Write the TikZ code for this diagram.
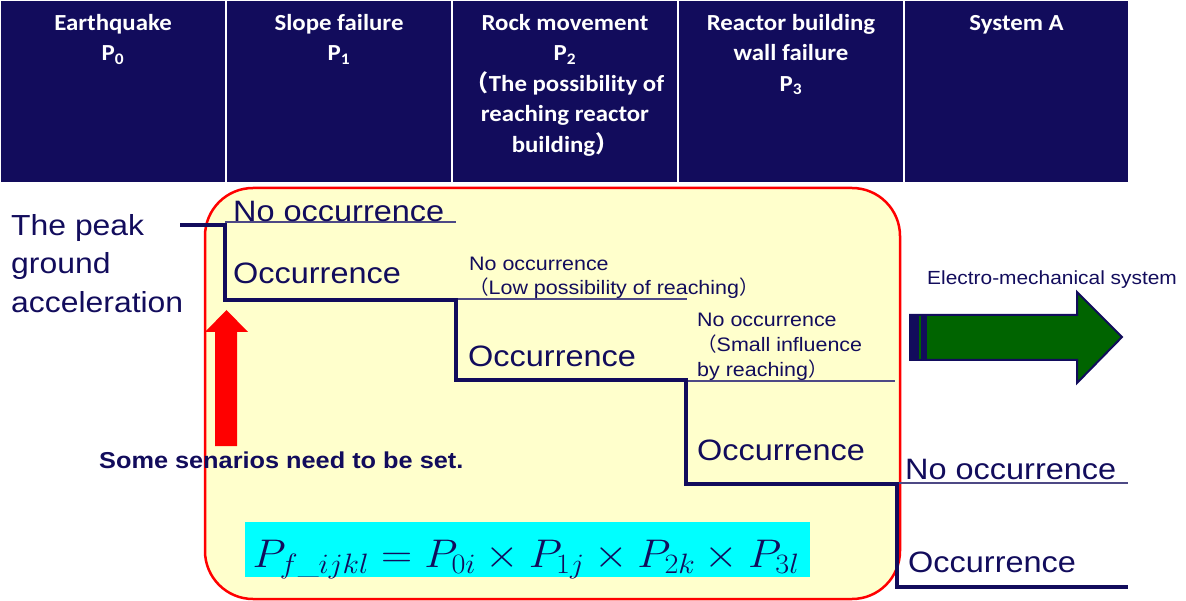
\RequirePackage{fix-cm}
\documentclass[tikz,border=0pt]{standalone}
\usepackage{amsmath}
\usepackage{fontspec}
\usepackage{graphicx}
\newfontfamily\hdrfont[FakeStretch=1.08]{Carlito}
\newfontfamily\arl[FakeStretch=1.1]{Liberation Sans}
\newfontfamily\cjk{Noto Sans CJK SC}
\definecolor{navy}{RGB}{18,12,92}
\definecolor{hdr}{RGB}{18,12,92}
\definecolor{lyel}{RGB}{255,255,204}
\definecolor{dgreen}{RGB}{0,100,0}
\definecolor{aqua}{RGB}{0,255,255}
\begin{document}
\begin{tikzpicture}[x=1pt,y=-1pt,
  hbox/.style={fill=hdr,draw=white,line width=1.5pt},
  htext/.style={text=white,font=\hdrfont\bfseries\fontsize{23}{30.5}\selectfont,align=center,anchor=north,inner sep=0pt},
  big/.style={text=navy,font=\arl\fontsize{29.5}{34}\selectfont,anchor=base west,inner sep=0pt},
  small/.style={text=navy,font=\arl\fontsize{19.5}{24}\selectfont,anchor=base west,inner sep=0pt},
  thickline/.style={draw=navy,line width=3.5pt,line join=miter},
  thinline/.style={draw=navy!75,line width=1.2pt}]
\useasboundingbox (0,0) rectangle (1186,601);
% header
\draw[hbox] (0,0) rectangle (226,183);
\draw[hbox] (226,0) rectangle (452,183);
\draw[hbox] (452,0) rectangle (678,183);
\draw[hbox] (678,0) rectangle (904,183);
\draw[hbox] (904,0) rectangle (1129,183);
\node[htext] (h0) at (113,12) {\rule{0pt}{18pt}Earthquake\\P\textsubscript{0}};
\node[htext] (h1) at (339,12) {\rule{0pt}{18pt}Slope failure\\P\textsubscript{1}};
\node[htext] (h2) at (565,12) {\rule{0pt}{18pt}Rock movement\\P\textsubscript{2}\\{\cjk （}The possibility of\\reaching reactor\\building{\cjk ）}};
\node[htext] (h3) at (791,12) {\rule{0pt}{18pt}Reactor building\\wall failure\\P\textsubscript{3}};
\node[htext] (h4) at (1016.5,12) {\rule{0pt}{18pt}System A};
% yellow box
\draw[red,line width=2.5pt,fill=lyel,rounded corners=48pt] (205,188) rectangle (900,599);
% red arrow
\fill[red] (215,446) -- (215,332) -- (205,332) -- (226.5,310) -- (248,332) -- (237,332) -- (237,446) -- cycle;
% green arrow
\draw[draw=navy,line width=2pt,fill=dgreen] (910,315) -- (1077,315) -- (1077,292) -- (1122,337) -- (1077,383) -- (1077,360) -- (910,360) -- cycle;
\fill[navy] (910,315) rectangle (927,360);
\draw[dgreen,line width=1.2pt] (920,316) -- (920,359);
\node[small,font=\arl\fontsize{19}{24}\selectfont] (ems) at (927,285) {Electro-mechanical system};
% coordinates of tree
\coordinate (pga) at (180,225);
\coordinate (s0) at (225,225);
\coordinate (s0b) at (225,300);
\coordinate (s1) at (456,300);
\coordinate (s1b) at (456,380);
\coordinate (s2) at (686,380);
\coordinate (s2b) at (686,484);
\coordinate (s3) at (897,484);
\coordinate (s3b) at (897,587);
\coordinate (e3) at (1128,587);
\coordinate (n0a) at (225,222);
\coordinate (n0b) at (456,222);
\coordinate (n1a) at (456,299);
\coordinate (n1b) at (687,299);
\coordinate (n2a) at (686,381);
\coordinate (n2b) at (895,381);
\coordinate (n3a) at (897,483);
\coordinate (n3b) at (1128,483);
\draw[thinline] (n0a) -- (n0b);
\draw[thinline] (n1a) -- (n1b);
\draw[thinline] (n2a) -- (n2b);
\draw[thinline] (n3a) -- (n3b);
\draw[thickline] (pga) -- (s0) -- (s0b) -- (s1) -- (s1b) -- (s2) -- (s2b) -- (s3) -- (s3b) -- (e3);
% left label
\node[text=navy,font=\arl\fontsize{29}{38.5}\selectfont,align=left,anchor=north west,inner sep=0pt] (pgat) at (11,213) {\rule{0pt}{22pt}The peak\\ground\\acceleration};
% labels
\node[big] (no0) at (233,222) {No occurrence};
\node[big] (oc0) at (233,284) {Occurrence};
\node[small] (no1) at (469,271) {No occurrence};
\node[small] (no1b) at (469,295) {{\cjk （}Low possibility of reaching{\cjk ）}};
\node[big] (oc1) at (468,367) {Occurrence};
\node[small] (no2) at (697,327) {No occurrence};
\node[small] (no2b) at (697,352) {{\cjk （}Small influence};
\node[small] (no2c) at (697,377) {by reaching{\cjk ）}};
\node[big] (oc2) at (697,460) {Occurrence};
\node[big] (no3) at (905,479) {No occurrence};
\node[big] (oc3) at (908,572) {Occurrence};
% scenarios
\node[text=navy,font=\arl\bfseries\fontsize{23}{28}\selectfont,anchor=base west,inner sep=0pt] (sc) at (99,468) {Some senarios need to be set.};
% formula
\fill[aqua] (245,522) rectangle (810,577);
\node[text=navy,anchor=base,inner sep=0pt,font=\fontsize{40}{48}\selectfont] (eq) at (526,567) {\scalebox{1.08}[1]{$P_{f\text{\_}ijkl}=P_{0i}\times P_{1j}\times P_{2k}\times P_{3l}$}};
\end{tikzpicture}
\end{document}
